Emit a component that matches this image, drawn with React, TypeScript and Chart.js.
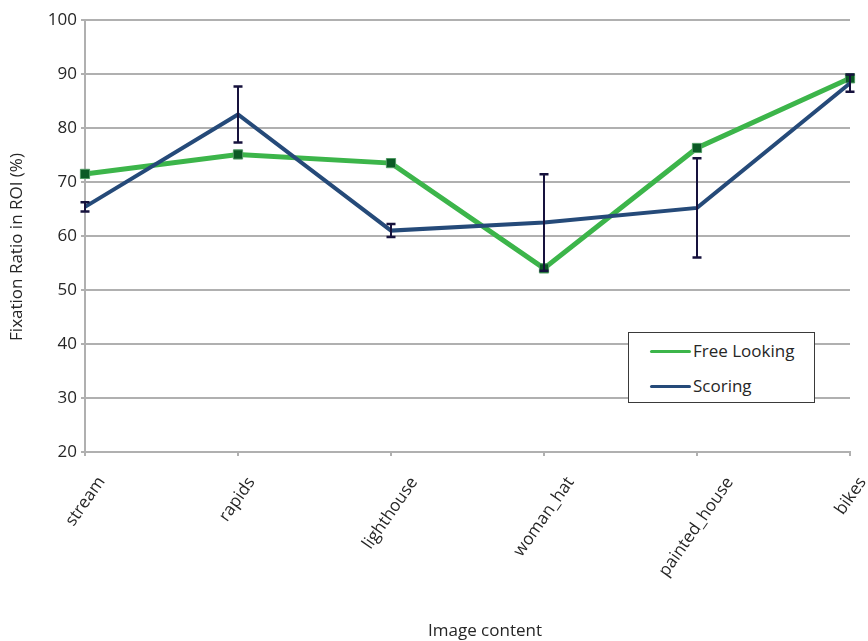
import React, { useEffect, useRef } from "react";
import { Chart, registerables } from "chart.js";

Chart.register(...registerables);

// Image categories along the x axis
const categories = ["stream", "rapids", "lighthouse", "woman_hat", "painted_house", "bikes"];

// Fixation ratio in ROI (%) per image
const freeLooking = [71.5, 75.1, 73.5, 54.0, 76.3, 89.2];
const scoring = [65.4, 82.5, 61.0, 62.5, 65.2, 88.3];
const scoringError = [0.85, 5.2, 1.2, 8.95, 9.2, 1.6];

// Y axis range and step
const yMin = 20;
const yMax = 100;
const yStep = 10;

const FONT = '"Open Sans", "Noto Sans", sans-serif';
const TEXT_COLOR = "#262626";
const GRID_COLOR = "#b0b0b0";
const GREEN = "#3cb54a";
const GREEN_MARK = "#0b5a25";
const BLUE = "#254a79";
const ERR_COLOR = "#16123d";

const xTitle = "Image content";
const yTitle = "Fixation Ratio in ROI (%)";

// Vertical error bars with caps for the Scoring series
const errorBarPlugin = {
  id: "errorBars",
  afterDatasetsDraw(chart: any) {
    const { ctx } = chart;
    const yScale = chart.scales.y;
    const meta = chart.getDatasetMeta(1);
    ctx.save();
    ctx.strokeStyle = ERR_COLOR;
    meta.data.forEach((pt: any, i: number) => {
      const x = pt.x;
      const top = yScale.getPixelForValue(scoring[i] + scoringError[i]);
      const bottom = yScale.getPixelForValue(scoring[i] - scoringError[i]);
      ctx.lineWidth = 2;
      ctx.beginPath();
      ctx.moveTo(x, top);
      ctx.lineTo(x, bottom);
      ctx.stroke();
      ctx.lineWidth = 2.5;
      ctx.beginPath();
      ctx.moveTo(x - 4.5, top);
      ctx.lineTo(x + 4.5, top);
      ctx.moveTo(x - 4.5, bottom);
      ctx.lineTo(x + 4.5, bottom);
      ctx.stroke();
    });
    ctx.restore();
  },
};

// Slanted category labels (bounding box centred under each tick) and axis titles
const axisTextPlugin = {
  id: "axisText",
  afterDraw(chart: any) {
    const { ctx } = chart;
    const xScale = chart.scales.x;
    const area = chart.chartArea;
    const ang = (55 * Math.PI) / 180;
    const c = Math.cos(ang);
    const s = Math.sin(ang);
    const labelTop = area.bottom + 23;

    ctx.save();
    ctx.fillStyle = TEXT_COLOR;
    ctx.font = `17px ${FONT}`;
    ctx.textAlign = "right";
    ctx.textBaseline = "alphabetic";
    categories.forEach((label, i) => {
      const px = xScale.getPixelForTick(i);
      const m = ctx.measureText(label);
      const asc = m.actualBoundingBoxAscent;
      const desc = m.actualBoundingBoxDescent;
      const w = m.width;
      const centre = (-w * c - asc * s + desc * s) / 2;
      ctx.save();
      ctx.translate(px - centre, labelTop + asc * c);
      ctx.rotate(-ang);
      ctx.fillText(label, 0, 0);
      ctx.restore();
    });

    ctx.textAlign = "center";
    ctx.textBaseline = "middle";
    ctx.fillText(xTitle, 485, 631);

    ctx.save();
    ctx.translate(17, 247);
    ctx.rotate(-Math.PI / 2);
    ctx.fillText(yTitle, 0, 0);
    ctx.restore();
    ctx.restore();
  },
};

function FixationChart() {
  const canvasRef = useRef<HTMLCanvasElement | null>(null);

  useEffect(() => {
    const canvas = canvasRef.current;
    if (!canvas) return;
    const chart = new Chart(canvas, {
      type: "line",
      data: {
        labels: categories,
        datasets: [
          {
            label: "Free Looking",
            data: freeLooking,
            borderColor: GREEN,
            borderWidth: 5,
            pointStyle: "rect",
            pointRadius: 6.5,
            pointBackgroundColor: GREEN_MARK,
            pointBorderColor: "#4f9a62",
            pointBorderWidth: 1,
            tension: 0,
            order: 1,
          },
          {
            label: "Scoring",
            data: scoring,
            borderColor: BLUE,
            borderWidth: 4,
            pointRadius: 0,
            tension: 0,
            order: 0,
          },
        ],
      },
      options: {
        responsive: false,
        animation: false,
        layout: { padding: { left: 0, top: 20, right: 18, bottom: 0 } },
        plugins: {
          legend: { display: false },
          tooltip: { enabled: false },
        },
        scales: {
          x: {
            type: "category",
            offset: false,
            grid: {
              display: true,
              drawOnChartArea: false,
              drawTicks: true,
              tickLength: 4,
              color: GRID_COLOR,
              lineWidth: 2,
            },
            border: { display: true, color: GRID_COLOR, width: 2 },
            ticks: { display: false },
            afterFit: (scale: any) => {
              scale.height = 641 - 452;
            },
          },
          y: {
            min: yMin,
            max: yMax,
            ticks: {
              stepSize: yStep,
              padding: 4,
              color: TEXT_COLOR,
              font: { family: FONT, size: 17 },
            },
            grid: { color: GRID_COLOR, lineWidth: 2, tickLength: 4 },
            border: { display: true, color: GRID_COLOR, width: 2 },
            afterFit: (scale: any) => {
              scale.width = 85;
            },
          },
        },
      },
      plugins: [errorBarPlugin, axisTextPlugin],
    });
    return () => chart.destroy();
  }, []);

  const legendRow = (color: string, text: string, top: number) => (
    <div style={{ position: "absolute", left: 0, top, height: 0 }}>
      <div
        style={{
          position: "absolute",
          left: 21,
          top: -1.5,
          width: 41,
          height: 3,
          background: color,
          borderRadius: 2,
        }}
      />
      <div
        style={{
          position: "absolute",
          left: 64,
          top: -12,
          lineHeight: "24px",
          whiteSpace: "nowrap",
          fontFamily: FONT,
          fontSize: 17,
          color: TEXT_COLOR,
        }}
      >
        {text}
      </div>
    </div>
  );

  return (
    <div style={{ position: "absolute", left: 0, top: 0, width: 868, height: 641, background: "#fff" }}>
      <canvas ref={canvasRef} width={868} height={641} style={{ width: 868, height: 641, display: "block" }} />
      <div
        style={{
          position: "absolute",
          left: 628,
          top: 332,
          width: 185,
          height: 69,
          border: "1px solid #3a3a3a",
          background: "#fff",
        }}
      >
        {legendRow(GREEN, "Free Looking", 18)}
        {legendRow(BLUE, "Scoring", 53)}
      </div>
    </div>
  );
}

export default function App() {
  return <FixationChart />;
}
